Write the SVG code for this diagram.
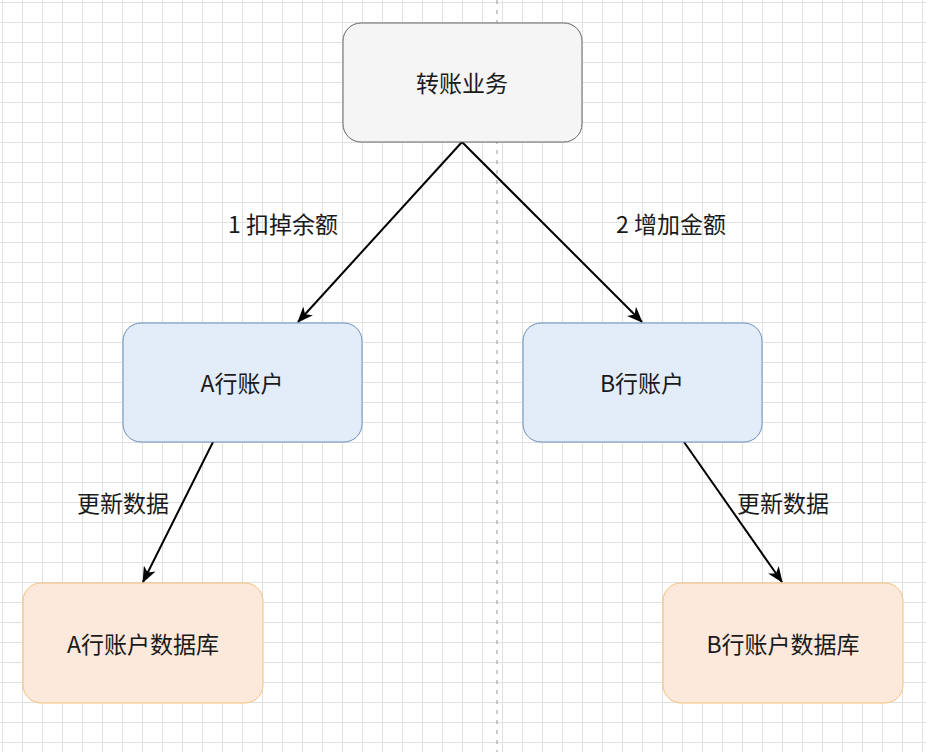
<svg xmlns="http://www.w3.org/2000/svg" width="926" height="752" viewBox="0 0 926 752">
<defs>
<pattern id="grid" x="2" y="2" width="20" height="20" patternUnits="userSpaceOnUse">
<path d="M 20 0.5 L 0.5 0.5 L 0.5 20" fill="none" stroke="#e0e0e0" stroke-width="1"/>
</pattern>
<marker id="arr" viewBox="0 0 16 13" refX="15" refY="6.5" markerWidth="16" markerHeight="13" markerUnits="userSpaceOnUse" orient="auto">
<path d="M0,0 L16,6.5 L0,13 L4.5,6.5 Z" fill="#000"/>
</marker>
<style>
.t{font-family:"Noto Sans CJK SC","Noto Sans",sans-serif;font-size:23px;fill:#1a1a1a;text-anchor:middle;dominant-baseline:central}
.gray{fill:#f5f5f5;stroke:#666;stroke-width:1}
.blue{fill:#e3edfa;stroke:#6c8ebf;stroke-width:1}
.orange{fill:#fde9dc;stroke:#f2c27c;stroke-width:1}
.edge{stroke:#000;stroke-width:2;fill:none;marker-end:url(#arr)}
</style>
</defs>
<rect width="926" height="752" fill="#fff"/>
<rect width="926" height="752" fill="url(#grid)"/>
<line x1="497" y1="0" x2="497" y2="752" stroke="#999" stroke-width="1" stroke-dasharray="4 6"/>
<g id="connectors">
<line class="edge" x1="462" y1="142" x2="298" y2="322"/>
<line class="edge" x1="462" y1="142" x2="642" y2="322"/>
<line class="edge" x1="213" y1="442" x2="143" y2="582"/>
<line class="edge" x1="684" y1="442" x2="782" y2="582"/>
<text class="t" x="283" y="223">1 扣掉余额</text>
<text class="t" x="671" y="223">2 增加金额</text>
<text class="t" x="123" y="502">更新数据</text>
<text class="t" x="783" y="502">更新数据</text>
</g>
<g id="transfer">
<rect class="gray" x="343" y="23" width="239" height="119" rx="18"/>
<text class="t" x="462" y="82">转账业务</text>
</g>
<g id="accountA">
<rect class="blue" x="123" y="323" width="239" height="119" rx="18"/>
<text class="t" x="242" y="382">A行账户</text>
</g>
<g id="accountB">
<rect class="blue" x="523" y="323" width="239" height="119" rx="18"/>
<text class="t" x="642" y="382">B行账户</text>
</g>
<g id="dbA">
<rect class="orange" x="23" y="583" width="240" height="120" rx="18"/>
<text class="t" x="143" y="643">A行账户数据库</text>
</g>
<g id="dbB">
<rect class="orange" x="663" y="583" width="240" height="120" rx="18"/>
<text class="t" x="783" y="643">B行账户数据库</text>
</g>
</svg>
